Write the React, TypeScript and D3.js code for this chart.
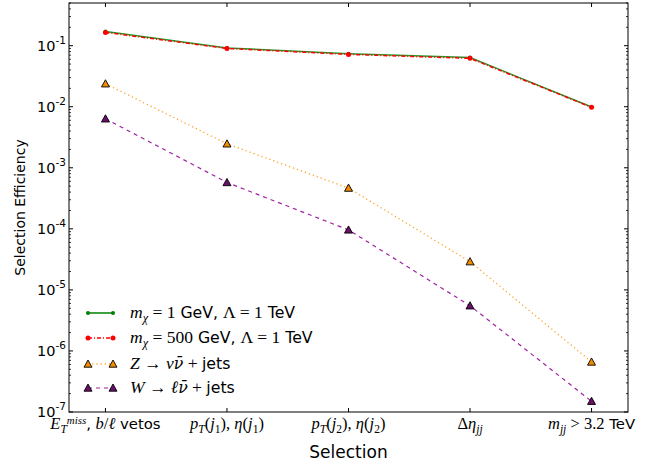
import React from "react";
import * as d3 from "d3";

// ---- data ----
const categories = ["met", "j1", "j2", "deta", "mjj"];
const sigLight = [0.17, 0.092, 0.074, 0.064, 0.0099];
const sigHeavy = [0.165, 0.09, 0.072, 0.062, 0.0098];
const zNuNu = [0.0238, 0.00247, 0.000465, 0.000029, 6.6e-7];
const wLNu = [0.00635, 0.000575, 0.000096, 0.0000055, 1.5e-7];
const yTickExps = [-7, -6, -5, -4, -3, -2, -1];

type Seg = [string, string];
// style codes: s = sans, m = math italic, r = math roman, mb = italic sub, rb = roman sub, msup = italic sup, mo = italic with macron
const xTickLabels: Seg[][] = [
  [["E", "m"], ["T", "mb"], ["miss", "msup"], [", ", "s"], ["b", "m"], ["/", "r"], ["ℓ", "m"], [" vetos", "s"]],
  [["p", "m"], ["T", "mb"], ["(", "r"], ["j", "m"], ["1", "rb"], ["), ", "r"], ["η", "m"], ["(", "r"], ["j", "m"], ["1", "rb"], [")", "r"]],
  [["p", "m"], ["T", "mb"], ["(", "r"], ["j", "m"], ["2", "rb"], ["), ", "r"], ["η", "m"], ["(", "r"], ["j", "m"], ["2", "rb"], [")", "r"]],
  [["Δ", "r"], ["η", "m"], ["jj", "mb"]],
  [["m", "m"], ["jj", "mb"], [" > 3.2", "r"], [" TeV", "s"]],
];
const legendLabels: Seg[][] = [
  [["m", "m"], ["χ", "mb"], [" = 1", "r"], [" GeV, ", "s"], ["Λ = 1", "r"], [" TeV", "s"]],
  [["m", "m"], ["χ", "mb"], [" = 500", "r"], [" GeV, ", "s"], ["Λ = 1", "r"], [" TeV", "s"]],
  [["Z", "m"], [" → ", "r"], ["ν", "m"], ["ν\u0304", "mo"], [" + ", "r"], ["jets", "s"]],
  [["W", "m"], [" → ", "r"], ["ℓ", "m"], ["ν\u0304", "mo"], [" + ", "r"], ["jets", "s"]],
];

const W = 667, H = 468;
const L = 69, R = 628, T = 3, B = 412;
const SANS = "DejaVu Sans";
const SERIF = "Liberation Serif";

function Rich({ segs, x, y, size, anchor }: { segs: Seg[]; x: number; y: number; size: number; anchor?: string }) {
  let cur = 0;
  const spans = segs.map(([t, st], i) => {
    let target = 0, fs = size, fam = SERIF, italic = false;
    if (st === "s") { fam = SANS; fs = size * 0.9; }
    else if (st === "m") { italic = true; }
    else if (st === "mo") { italic = true; fam = "DejaVu Serif"; fs = size * 0.9; }
    else if (st === "r") { }
    else if (st === "mb") { italic = true; fs = size * 0.7; target = size * 0.25; }
    else if (st === "rb") { fs = size * 0.7; target = size * 0.25; }
    else if (st === "msup") { italic = true; fs = size * 0.66; target = -size * 0.3; }
    const dy = target - cur;
    cur = target;
    return (
      <tspan key={i} dy={dy} fontSize={fs} fontFamily={fam} fontStyle={italic ? "italic" : "normal"}
        style={{ whiteSpace: "pre" }}>
        {t}
      </tspan>
    );
  });
  return (
    <text x={x} y={y} textAnchor={anchor || "start"} fill="#000" style={{ whiteSpace: "pre" }}>
      {spans}
    </text>
  );
}

function tri(cx: number, cy: number, s = 4) {
  return `M${cx},${cy - s}L${cx + s},${cy + s * 0.8}L${cx - s},${cy + s * 0.8}Z`;
}

export default function App() {
  const x = d3.scaleLinear().domain([-0.3, 4.3]).range([L, R]);
  const y = d3.scaleLog().domain([1e-7, 0.5]).range([B, T]);
  const idx = categories.map((_, i) => i);
  const line = (vals: number[]) =>
    d3.line<number>().x((i) => x(i)).y((i) => y(vals[i]))(idx) || "";

  const minor: number[] = [];
  for (let e = -7; e <= -1; e++) for (let k = 2; k <= 9; k++) {
    const v = k * Math.pow(10, e);
    if (v <= 0.5) minor.push(v);
  }

  const series = [
    { vals: sigLight, color: "green", dash: "", width: 1.5, marker: "dot", fill: "green", r: 2 },
    { vals: sigHeavy, color: "red", dash: "4 2 1 2", width: 1.5, marker: "dot", fill: "red", r: 2.5 },
    { vals: zNuNu, color: "#ffa020", dash: "1.2 3", width: 1.3, marker: "tri", fill: "#f08c00", r: 0 },
    { vals: wLNu, color: "#a020a0", dash: "4 4", width: 1.2, marker: "tri", fill: "#6a0f6a", r: 0 },
  ];

  const legY = [313, 338, 364, 388];

  return (
    <svg width={W} height={H} style={{ position: "absolute", left: 0, top: 0, background: "#fff" }}>
      <rect x={0} y={0} width={W} height={H} fill="#fff" />
      {series.map((s, si) => (
        <g key={si}>
          <path d={line(s.vals)} fill="none" stroke={s.color} strokeWidth={s.width} strokeDasharray={s.dash} opacity={si === 0 ? 0.85 : 1} />
          {s.vals.map((v, i) =>
            s.marker === "dot" ? (
              <circle key={i} cx={x(i)} cy={y(v)} r={s.r} fill={s.fill} />
            ) : (
              <path key={i} d={tri(x(i), y(v))} fill={s.fill} stroke="#000" strokeWidth={0.9} />
            )
          )}
        </g>
      ))}

      <rect x={L} y={T} width={R - L} height={B - T} fill="none" stroke="#000" strokeWidth={1} />

      {yTickExps.map((e) => (
        <g key={e}>
          <line x1={L} x2={L + 4} y1={y(Math.pow(10, e))} y2={y(Math.pow(10, e))} stroke="#000" />
          <line x1={R} x2={R - 4} y1={y(Math.pow(10, e))} y2={y(Math.pow(10, e))} stroke="#000" />
          <text x={L - 3} y={y(Math.pow(10, e)) + 5} textAnchor="end" fontFamily={SANS} fontSize={14.5} fill="#000">
            <tspan>10</tspan>
            <tspan dy={-7} fontSize={10.5}>{`-${-e}`}</tspan>
          </text>
        </g>
      ))}
      {minor.map((v, i) => (
        <g key={i}>
          <line x1={L} x2={L + 2} y1={y(v)} y2={y(v)} stroke="#000" strokeWidth={0.8} />
          <line x1={R} x2={R - 2} y1={y(v)} y2={y(v)} stroke="#000" strokeWidth={0.8} />
        </g>
      ))}

      {idx.map((i) => (
        <g key={i}>
          <line x1={x(i)} x2={x(i)} y1={B} y2={B - 4} stroke="#000" />
          <line x1={x(i)} x2={x(i)} y1={T} y2={T + 4} stroke="#000" />
          <Rich segs={xTickLabels[i]} x={x(i)} y={429} size={16.5} anchor="middle" />
        </g>
      ))}

      <text x={(L + R) / 2} y={458} textAnchor="middle" fontFamily={SANS} fontSize={17} fill="#000">Selection</text>
      <text transform={`translate(25,${(T + B) / 2}) rotate(-90)`} textAnchor="middle" fontFamily={SANS} fontSize={14} fill="#000">
        Selection Efficiency
      </text>

      {series.map((s, si) => (
        <g key={si}>
          <line x1={88} x2={113} y1={legY[si]} y2={legY[si]} stroke={s.color} strokeWidth={s.width} strokeDasharray={s.dash} />
          {[88, 113].map((lx) =>
            s.marker === "dot" ? (
              <circle key={lx} cx={lx} cy={legY[si]} r={s.r} fill={s.fill} />
            ) : (
              <path key={lx} d={tri(lx, legY[si])} fill={s.fill} stroke="#000" strokeWidth={0.9} />
            )
          )}
          <Rich segs={legendLabels[si]} x={130} y={legY[si] + 5} size={17.5} />
        </g>
      ))}
    </svg>
  );
}
